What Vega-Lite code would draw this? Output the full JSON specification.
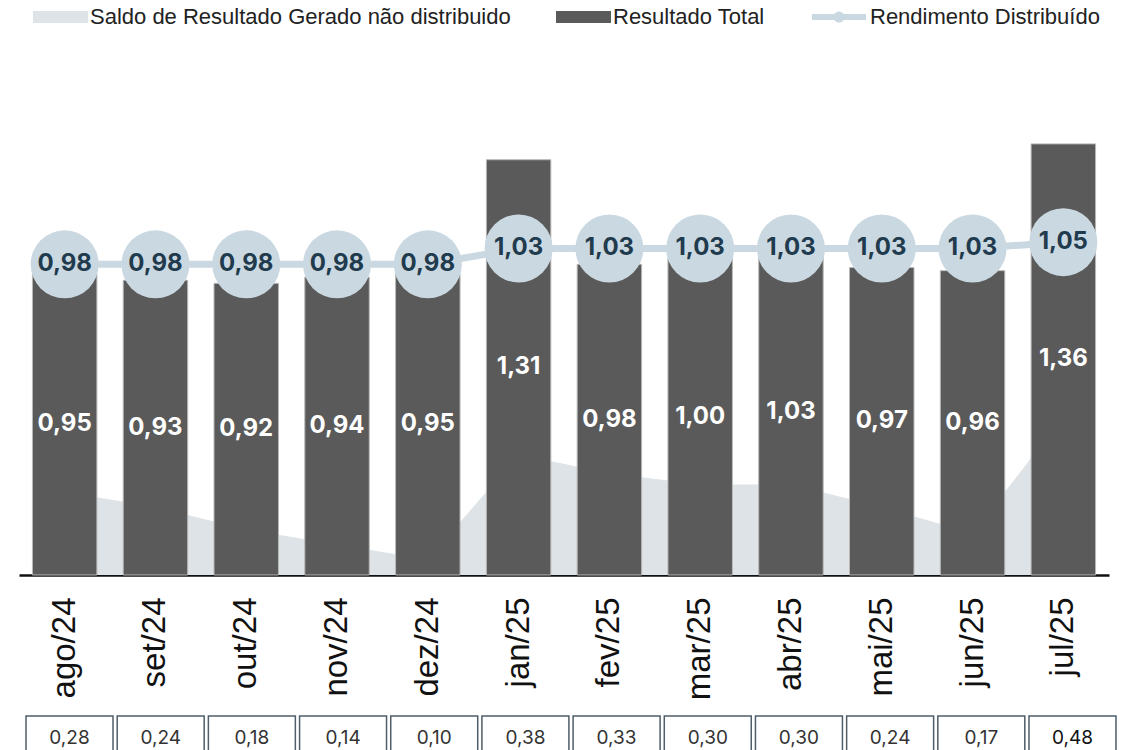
{
  "$schema": "https://vega.github.io/schema/vega-lite/v6.json",
  "padding": {"left": 19, "top": 0, "right": 0, "bottom": 0},
  "background": "white",
  "config": {
    "view": {"stroke": null},
    "concat": {"spacing": 15},
    "locale": {"number": {"decimal": ",", "thousands": ".", "grouping": [3], "currency": ["R$", ""]}}
  },
  "data": {
    "values": [
      {"mes": "ago/24", "saldo": 0.28, "total": 0.95, "rend": 0.98},
      {"mes": "set/24", "saldo": 0.24, "total": 0.93, "rend": 0.98},
      {"mes": "out/24", "saldo": 0.18, "total": 0.92, "rend": 0.98},
      {"mes": "nov/24", "saldo": 0.14, "total": 0.94, "rend": 0.98},
      {"mes": "dez/24", "saldo": 0.10, "total": 0.95, "rend": 0.98},
      {"mes": "jan/25", "saldo": 0.38, "total": 1.31, "rend": 1.03},
      {"mes": "fev/25", "saldo": 0.33, "total": 0.98, "rend": 1.03},
      {"mes": "mar/25", "saldo": 0.30, "total": 1.00, "rend": 1.03},
      {"mes": "abr/25", "saldo": 0.30, "total": 1.03, "rend": 1.03},
      {"mes": "mai/25", "saldo": 0.24, "total": 0.97, "rend": 1.03},
      {"mes": "jun/25", "saldo": 0.17, "total": 0.96, "rend": 1.03},
      {"mes": "jul/25", "saldo": 0.48, "total": 1.36, "rend": 1.05}
    ]
  },
  "vconcat": [
    {
      "width": 1090,
      "height": 575,
      "encoding": {
        "x": {
          "field": "mes", "type": "ordinal", "sort": null,
          "scale": {"paddingInner": 0.29, "paddingOuter": 0.148},
          "axis": {
            "title": null, "labelAngle": -90, "labelFont": "Liberation Sans", "labelFontSize": 33,
            "labelColor": "#111111", "ticks": false, "labelPadding": 22,
            "domainColor": "#111111", "domainWidth": 2.5, "grid": false
          }
        }
      },
      "resolve": {"scale": {"y": "independent"}},
      "layer": [
        {
          "mark": {"type": "area", "clip": true, "opacity": 1},
          "encoding": {
            "y": {"field": "saldo", "type": "quantitative", "scale": {"domain": [0.0587, 1.592], "nice": false, "zero": false}, "axis": null},
            "fill": {
              "datum": "Saldo de Resultado Gerado não distribuido",
              "scale": {
                "domain": ["Saldo de Resultado Gerado não distribuido", "Resultado Total"],
                "range": ["#dde3e6", "#5a5a5a"]
              },
              "legend": {
                "title": null, "orient": "none", "legendX": 14, "legendY": 5, "direction": "horizontal",
                "labelFont": "Liberation Sans", "labelFontSize": 22, "labelColor": "#222222", "labelLimit": 0,
                "symbolSize": 576, "symbolType": "M-1,-0.5H3.583V0.5H-1Z", "labelOffset": 33, "columnPadding": 45, "padding": 0,
                "symbolStrokeWidth": 0, "symbolOpacity": 1
              }
            }
          }
        },
        {
          "encoding": {
            "y": {"type": "quantitative", "scale": {"domain": [0, 1.8139], "nice": false, "zero": true}, "axis": null}
          },
          "layer": [
            {
              "mark": {"type": "bar", "stroke": "#b8b8b8", "strokeWidth": 1, "opacity": 1},
              "encoding": {
                "y": {"field": "total", "type": "quantitative"},
                "fill": {"datum": "Resultado Total"}
              }
            },
            {
              "mark": {"type": "line", "strokeWidth": 7, "opacity": 1},
              "encoding": {
                "y": {"field": "rend", "type": "quantitative"},
                "stroke": {
                  "datum": "Rendimento Distribuído",
                  "scale": {"domain": ["Rendimento Distribuído"], "range": ["#cad8e1"]},
                  "legend": {
                    "title": null, "orient": "none", "legendX": 790, "legendY": 2, "direction": "horizontal",
                    "labelFont": "Liberation Sans", "labelFontSize": 22, "labelColor": "#222222", "labelLimit": 0,
                    "symbolSize": 576, "symbolType": "M-1,0H3.5M1.04,0A0.21,0.21 0 1,1 1.46,0A0.21,0.21 0 1,1 1.04,0", "labelOffset": 31, "padding": 0,
                    "symbolStrokeWidth": 6, "symbolOpacity": 1
                  }
                }
              }
            },
            {
              "mark": {"type": "point", "filled": true, "shape": "circle", "size": 4624, "color": "#cad8e1", "opacity": 1},
              "encoding": {
                "y": {"field": "rend", "type": "quantitative"}
              }
            },
            {
              "mark": {"type": "text", "font": "Inter", "fontSize": 24, "fontWeight": "bold", "color": "#1f3b4d", "baseline": "middle", "align": "center"},
              "encoding": {
                "y": {"field": "rend", "type": "quantitative"},
                "text": {"field": "rend", "type": "quantitative", "format": ".2f"}
              }
            }
          ]
        },
        {
          "mark": {"type": "text", "font": "Inter", "fontSize": 24, "fontWeight": "bold", "color": "#ffffff", "baseline": "middle", "align": "center"},
          "encoding": {
            "y": {"field": "total", "type": "quantitative", "scale": {"domain": [0, 3.6278], "nice": false, "zero": true}, "axis": null},
            "text": {"field": "total", "type": "quantitative", "format": ".2f"}
          }
        }
      ]
    },
    {
      "width": 1104,
      "height": 44,
      "encoding": {
        "x": {
          "field": "mes", "type": "ordinal", "sort": null,
          "scale": {"paddingInner": 0.046, "paddingOuter": 0.077},
          "axis": null
        }
      },
      "layer": [
        {
          "mark": {"type": "bar", "fill": "#ffffff", "stroke": "#4f5e69", "strokeWidth": 1.5}
        },
        {
          "mark": {"type": "text", "font": "Inter", "fontSize": 19, "baseline": "middle", "align": "center"},
          "encoding": {
            "text": {"field": "saldo", "type": "quantitative", "format": ".2f"},
            "fontWeight": {"condition": {"test": "datum.mes === 'jul/25'", "value": "bold"}, "value": "normal"},
            "color": {"condition": {"test": "datum.mes === 'jul/25'", "value": "#111111"}, "value": "#333333"}
          }
        }
      ]
    }
  ]
}
